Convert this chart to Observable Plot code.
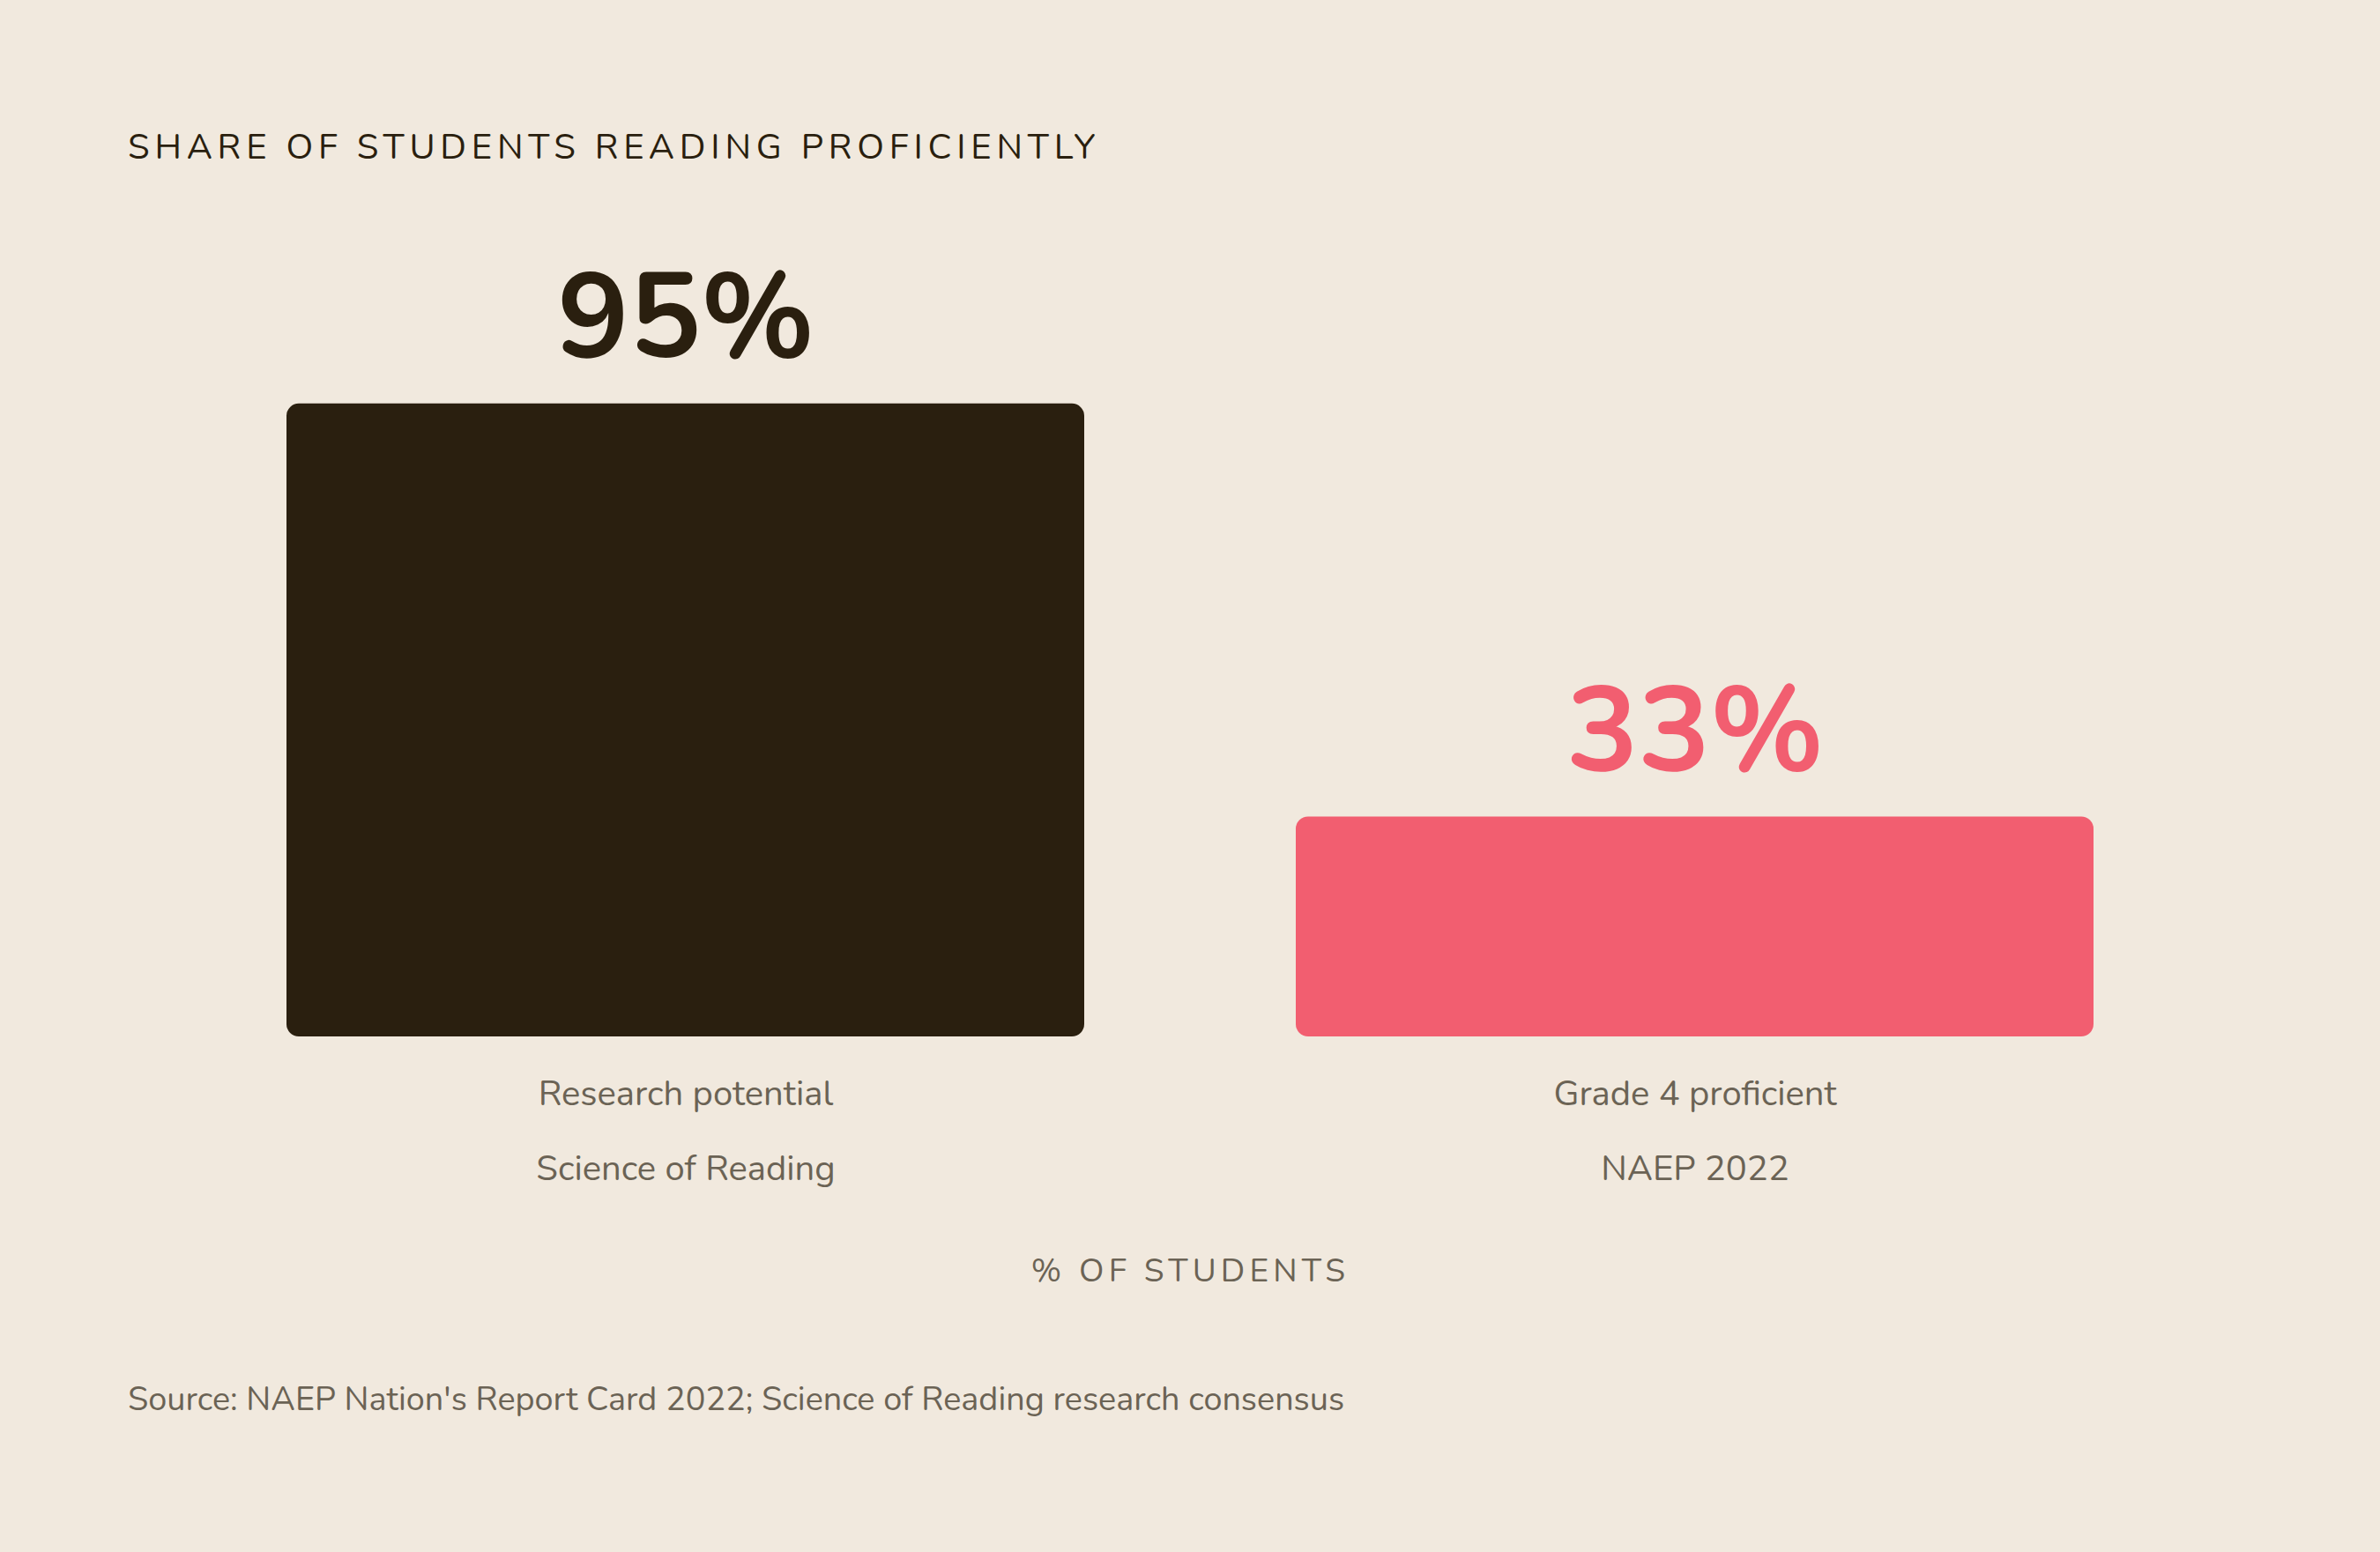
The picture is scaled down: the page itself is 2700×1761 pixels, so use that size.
<!DOCTYPE html>
<html>
<head>
<meta charset="utf-8">
<script src="https://cdn.jsdelivr.net/npm/d3@7"></script>
<script src="https://cdn.jsdelivr.net/npm/@observablehq/plot@0.6"></script>
<style>
  html, body { margin: 0; padding: 0; background: #f1e9de; }
  body { width: 2700px; height: 1761px; overflow: hidden; font-family: Nunito, Lato, sans-serif; }
  #title { margin: 0; padding: 142px 0 0 145px; font-size: 40px; line-height: 50px; height: 50px;
           letter-spacing: 0.145em; color: #2a1f0f; font-weight: 400; }
  #chart svg { display: block; }
  #chart g[aria-label="x-axis label"] text { font-size: 37px; letter-spacing: 0.14em; }
  #caption { margin: 72px 0 0 145px; font-size: 37.8px; line-height: 48px; color: #6b6355; }
</style>
</head>
<body>
<div id="title">SHARE OF STUDENTS READING PROFICIENTLY</div>
<div id="chart"></div>
<div id="caption">Source: NAEP Nation's Report Card 2022; Science of Reading research consensus</div>
<script>
const categories = ["Research potential", "Grade 4 proficient"];
const subLabels = ["Science of Reading", "NAEP 2022"];
const values = [95, 33];
const valueLabels = ["95%", "33%"];
const barColors = ["#2a1f0f", "#f25e70"];
const axisLabel = "% OF STUDENTS";

const data = categories.map((c, i) => ({category: c, sub: subLabels[i], value: values[i], label: valueLabels[i]}));
const subOf = new Map(categories.map((c, i) => [c, subLabels[i]]));

const chart = Plot.plot({
  width: 2700,
  height: 1300,
  marginTop: 228,
  marginBottom: 316,
  marginLeft: 84,
  marginRight: 84,
  style: {background: "transparent", fontFamily: "Nunito, Lato, sans-serif", color: "#6b6355"},
  x: {domain: categories, padding: 0.21},
  y: {domain: [0, 100], axis: null},
  color: {domain: categories, range: barColors},
  marks: [
    Plot.barY(data, {x: "category", y: "value", fill: "category", rx: 14}),
    Plot.text(data, {x: "category", y: "value", text: "label", fill: "category", dy: -53,
      lineAnchor: "bottom", fontSize: 136, fontWeight: 700}),
    Plot.axisX({tickSize: 0, tickPadding: 17, fontSize: 40, lineHeight: 2.125,
      tickFormat: c => c + "\n" + subOf.get(c), fill: "#6b6355",
      label: axisLabel, labelAnchor: "center", labelOffset: 277})
  ]
});
document.getElementById("chart").appendChild(chart);
</script>
</body>
</html>
